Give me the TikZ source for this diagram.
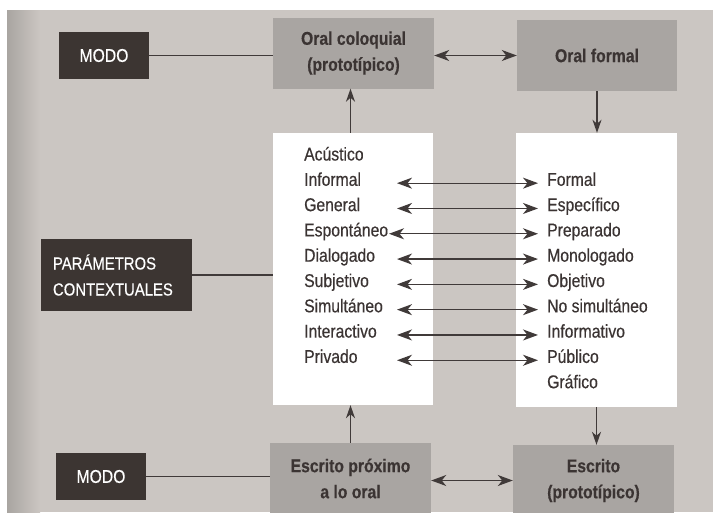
\documentclass[tikz,border=0pt]{standalone}
\usepackage{fontspec}
\setmainfont{Liberation Sans}[FakeStretch=0.85, FakeBold=0.4]
\usetikzlibrary{arrows.meta}
\definecolor{bgpaper}{HTML}{CBC6C2}
\definecolor{bgshade}{HTML}{A9A5A1}
\definecolor{boxgray}{HTML}{A9A5A2}
\definecolor{boxdark}{HTML}{3C3532}
\definecolor{inkdark}{HTML}{3B3433}
\definecolor{arrowink}{HTML}{403A39}
\tikzset{
  darkbox/.style={fill=boxdark, text=white, inner sep=0pt, font=\fontsize{18.5}{26}\selectfont},
  graybox/.style={fill=boxgray, text=inkdark, inner sep=0pt, align=center, font=\fontsize{18.5}{26}\selectfont\bfseries},
  whitebox/.style={fill=white, inner sep=0pt},
  lword/.style={anchor=base west, inner sep=0pt, text=inkdark, font=\fontsize{18.5}{25}\selectfont},
  rword/.style={anchor=base west, inner sep=0pt, text=inkdark, font=\fontsize{18.5}{25}\selectfont},
  plainline/.style={draw=arrowink, line width=1.2pt},
  uparrow/.style={draw=arrowink, line width=1.2pt, -{Stealth[length=13pt,width=9pt,inset=4pt]}},
  dblarrow/.style={draw=arrowink, line width=1.3pt, {Stealth[length=15pt,width=11pt,inset=4.5pt]}-{Stealth[length=15pt,width=11pt,inset=4.5pt]}}
}
\begin{document}
\begin{tikzpicture}[x=1pt,y=-1pt]
\useasboundingbox (0,0) rectangle (713,512);
\fill[white] (0,0) rectangle (713,512);
\fill[bgpaper] (7,10) rectangle (713,512);
\shade[left color=bgshade, right color=bgpaper] (7,10) rectangle (40,512);
\begin{scope}
\clip (0,0) rectangle (713,512);
% top row
\node[darkbox, minimum width=90pt, minimum height=47pt] (modo1) at (104,55.5) {MODO};
\node[graybox, minimum width=161pt, minimum height=71pt] (oc) at (353.5,53) {Oral coloquial\\(prototípico)};
\node[graybox, minimum width=160pt, minimum height=71pt] (of) at (597,55.5) {Oral formal};
% white panels
\node[whitebox, minimum width=160pt, minimum height=272pt] (wl) at (353,269) {};
\node[whitebox, minimum width=161pt, minimum height=274pt] (wr) at (596.5,270) {};
% parameters box
\node[darkbox, minimum width=151pt, minimum height=72pt, text width=127pt, align=left, font=\fontsize{17.5}{26}\selectfont] (par) at (116.5,275) {PARÁMETROS\\CONTEXTUALES};
% bottom row
\node[darkbox, minimum width=90pt, minimum height=47pt] (modo2) at (101,476.5) {MODO};
\node[graybox, minimum width=161pt, minimum height=71pt] (ep) at (350.5,478.5) {Escrito próximo\\a lo oral};
\node[graybox, minimum width=161pt, minimum height=71pt] (epr) at (593.5,480.5) {Escrito\\(prototípico)};
\end{scope}
% word columns
\coordinate (ax) at (397,0);
\coordinate (axs) at (389,0);
\node[lword] (l0) at (304,160.5) {Acústico};
\node[lword] (l1) at (304,185.8) {Informal};
\node[lword] (l2) at (304,211.1) {General};
\node[lword] (l3) at (304,236.4) {Espontáneo};
\node[lword] (l4) at (304,261.7) {Dialogado};
\node[lword] (l5) at (304,287.0) {Subjetivo};
\node[lword] (l6) at (304,312.3) {Simultáneo};
\node[lword] (l7) at (304,337.6) {Interactivo};
\node[lword] (l8) at (304,362.9) {Privado};
\node[rword] (r1) at (547,185.8) {Formal};
\node[rword] (r2) at (547,211.1) {Específico};
\node[rword] (r3) at (547,236.4) {Preparado};
\node[rword] (r4) at (547,261.7) {Monologado};
\node[rword] (r5) at (547,287.0) {Objetivo};
\node[rword] (r6) at (547,312.3) {No simultáneo};
\node[rword] (r7) at (547,337.6) {Informativo};
\node[rword] (r8) at (547,362.9) {Público};
\node[rword] (r9) at (547,388.2) {Gráfico};
% row arrows
\foreach \i in {1,2,4,5,6,7,8} {
  \draw[dblarrow] (ax |- l\i.mid) -- ([xshift=-9pt]r\i.mid west);
}
\draw[dblarrow] (axs |- l3.mid) -- ([xshift=-9pt]r3.mid west);
% connectors
\draw[plainline] (modo1.east) -- (modo1.east -| oc.west);
\draw[dblarrow] (oc.east |- of.west) -- (of.west);
\draw[uparrow] (wl.north -| ep.north) -- (oc.south -| ep.north);
\draw[uparrow] (of.south) -- (of.south |- wr.north);
\draw[plainline] (par.east) -- (par.east -| wl.west);
\draw[uparrow] (ep.north) -- (ep.north |- wl.south);
\draw[uparrow] (wr.south) -- (wr.south |- epr.north);
\draw[dblarrow] (ep.east |- epr.west) -- (epr.west);
\draw[plainline] (modo2.east) -- (modo2.east -| ep.west);
\end{tikzpicture}
\end{document}
